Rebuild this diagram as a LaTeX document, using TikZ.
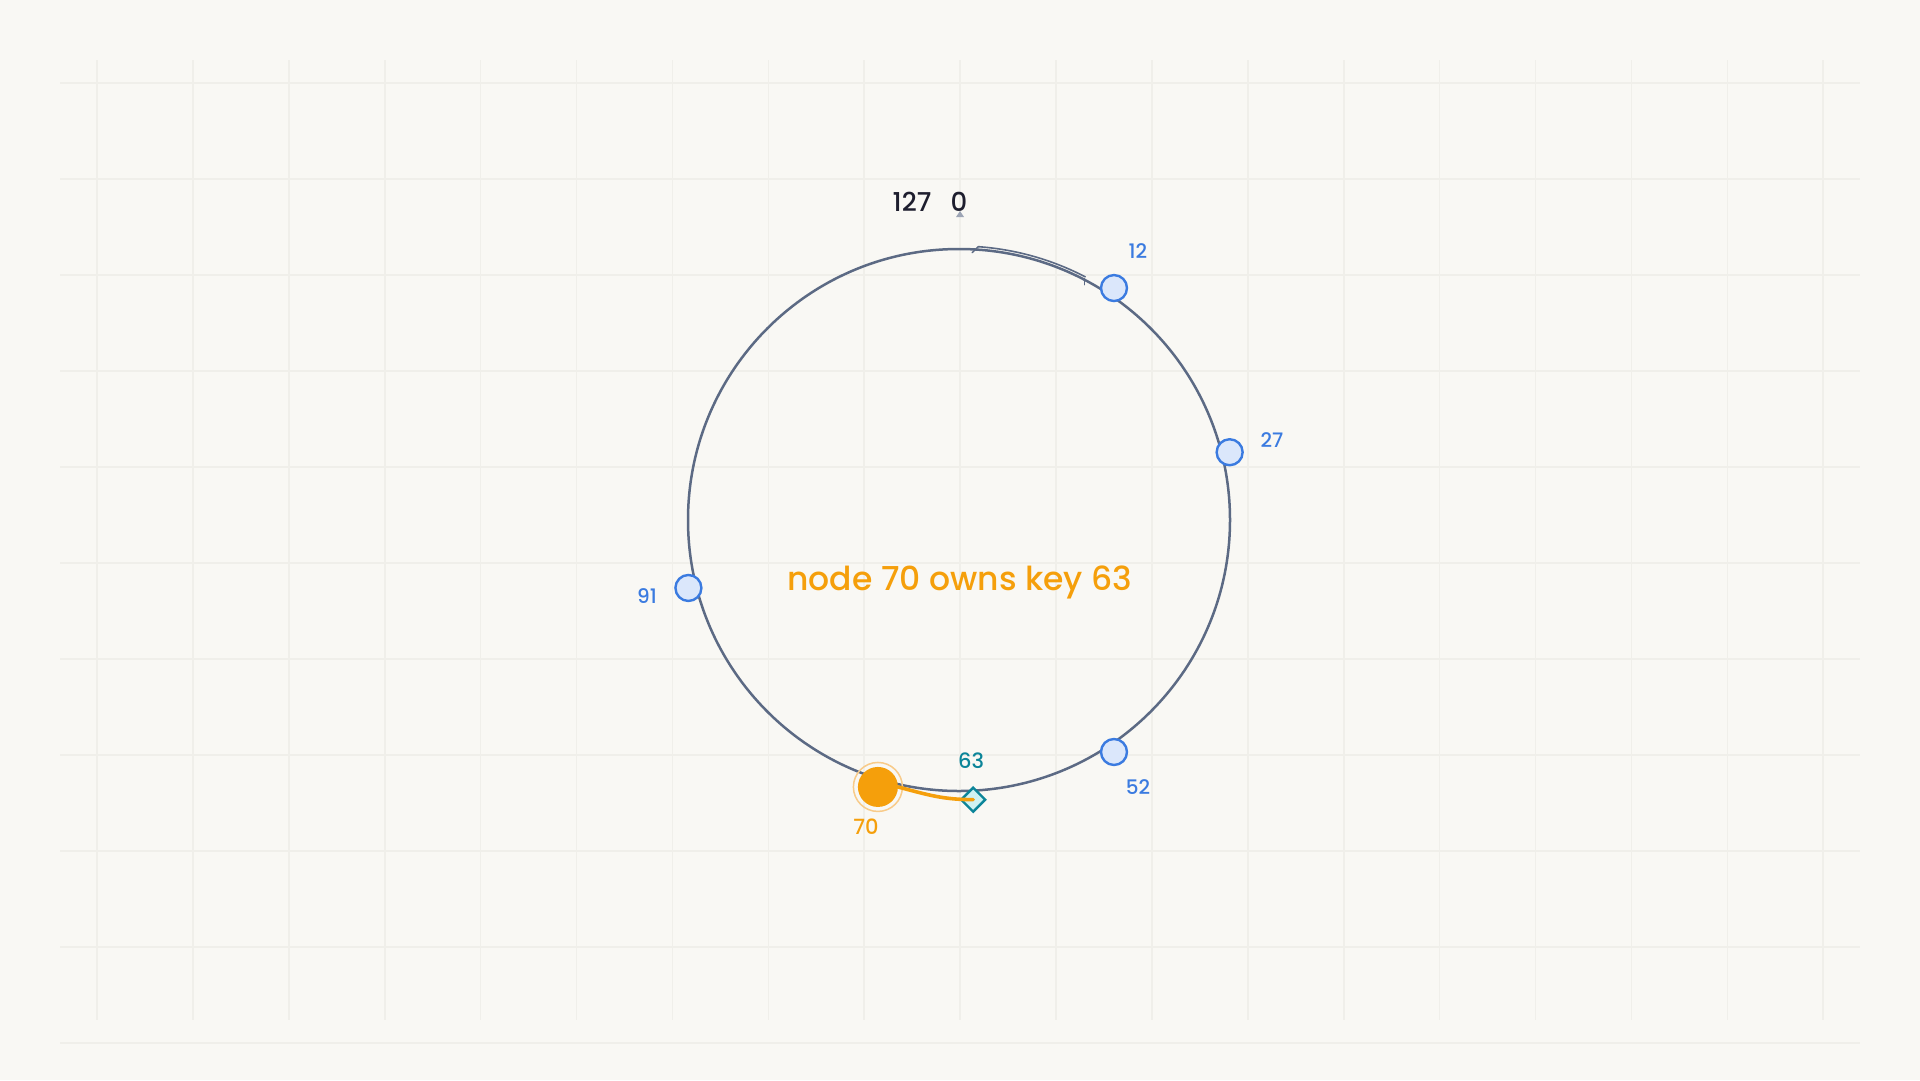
\documentclass[tikz,border=0pt]{standalone}
\usepackage{fontspec}
\setmainfont{Poppins Medium}
\usetikzlibrary{calc,shapes.geometric}
\definecolor{bg}{HTML}{F9F8F4}
\definecolor{gridc}{HTML}{F0EFEA}
\definecolor{ring}{HTML}{5C6A84}
\definecolor{nodeblue}{HTML}{3B7BE0}
\definecolor{nodefill}{HTML}{DBE7FB}
\definecolor{orng}{HTML}{F59F0B}
\definecolor{orngl}{HTML}{F8CB8A}
\definecolor{tealc}{HTML}{0C8599}
\definecolor{tealfill}{HTML}{CFF2F2}
\definecolor{ink}{HTML}{1E1E2E}
\begin{document}
\begin{tikzpicture}[x=1pt,y=-1pt,
  gridline/.style={draw=gridc,line width=1.6pt},
  ringline/.style={draw=ring,line width=2.5pt},
  ringnode/.style={circle,draw=nodeblue,fill=nodefill,line width=2.4pt,minimum size=26pt,inner sep=0pt},
  bluelabel/.style={text=nodeblue,font=\fontsize{20pt}{20pt}\selectfont},
  keynode/.style={diamond,draw=tealc,fill=tealfill,line width=2.4pt,minimum size=25pt,inner sep=0pt},
  ownernode/.style={circle,fill=orng,minimum size=40pt,inner sep=0pt},
  ownerhalo/.style={circle,draw=orngl,line width=1.5pt,minimum size=49pt,inner sep=0pt},
  mainlabel/.style={text=orng,font=\fontsize{33pt}{33pt}\selectfont},
  toplabel/.style={text=ink,font=\fontsize{26pt}{26pt}\selectfont}]
% background and bounding box
\fill[bg] (0,0) rectangle (1920,1080);
\useasboundingbox (0,0) rectangle (1920,1080);
% grid
\foreach \k in {0,...,18} {\draw[gridline] ({97+95.9*\k},60) -- ({97+95.9*\k},1020);}
\foreach \k in {0,...,10} {\draw[gridline] (60,{83+96*\k}) -- (1860,{83+96*\k});}
% ring
\coordinate (c) at (959,520);
\draw[ringline] (c) circle[radius=271pt];
% top arc arrow
\coordinate (arcA) at ($(c)+(86:274pt)$);
\coordinate (arcB) at ($(c)+(62.5:272pt)$);
\draw[draw=ring,line width=1.6pt] (arcA) arc[start angle=86,end angle=62.5,radius=274pt];
\draw[draw=ring,line width=1.4pt,line cap=round] (arcA) -- ++(-6pt,-6pt);
\draw[draw=ring,line width=1.4pt,line cap=round] (arcB) -- ++(0pt,-6pt);
% top labels
\node[toplabel] (l127) at (912,202) {127};
\node[toplabel] (l0) at (959,202) {0};
\fill[ring!60] (956,217) -- (964,217) -- (960,211) -- cycle;
% ring nodes
\node[ringnode] (n12) at ($(c)+(56.25:279pt)$) {};
\node[ringnode] (n27) at ($(c)+(14.06:279pt)$) {};
\node[ringnode] (n52) at ($(c)+(-56.25:279pt)$) {};
\node[ringnode] (n91) at ($(c)+(-165.9:279pt)$) {};
\node[bluelabel] (t12) at (1138,251) {12};
\node[bluelabel] (t27) at (1272,440) {27};
\node[bluelabel] (t52) at (1138,787) {52};
\node[bluelabel] (t91) at (647,596) {91};
% owner node 70 and key 63
\node[ownerhalo] (h70) at ($(c)+(-106.9:279pt)$) {};
\node[ownernode] (n70) at (h70) {};
\node[keynode] (k63) at ($(c)+(-87.1:280pt)$) {};
\draw[draw=orng,line width=3.6pt,line cap=round] (n70.east) .. controls ($(n70.east)+(30pt,-8pt)$) and ($(k63.center)+(-30pt,0pt)$) .. (k63.center);
\node[text=orng,font=\fontsize{21pt}{21pt}\selectfont] (t70) at (866,827) {70};
\node[text=tealc,font=\fontsize{21pt}{21pt}\selectfont] (t63) at (971,761) {63};
% caption
\node[mainlabel] (cap) at (960,582) {node 70 owns key 63};
\end{tikzpicture}
\end{document}
